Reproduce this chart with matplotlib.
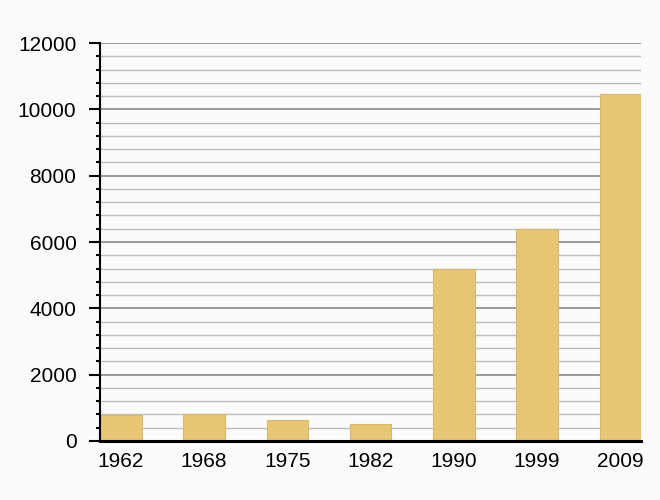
import matplotlib
matplotlib.use("Agg")
import matplotlib.pyplot as plt
from matplotlib.ticker import MultipleLocator

# values
years = ["1962", "1968", "1975", "1982", "1990", "1999", "2009"]
values = [780, 810, 630, 510, 5200, 6400, 10450]

bar_color = "#e6c574"
edge_color = "#d9b868"

plt.rcParams['font.family'] = ['Liberation Sans', 'DejaVu Sans']

fig = plt.figure(figsize=(6.6, 5), dpi=100)
fig.patch.set_facecolor("#fbfbfb")
ax = fig.add_axes([0.1515, 0.118, 0.82, 0.796])
ax.set_facecolor("#fbfbfb")

x = range(len(years))
ax.bar(x, values, width=0.5, color=bar_color, edgecolor=edge_color, linewidth=0.8, zorder=3)

ax.set_xlim(-0.25, len(years) - 0.75)
ax.set_ylim(0, 12000)
ax.set_xticks(list(x))
ax.set_xticklabels(years)
ax.yaxis.set_major_locator(MultipleLocator(2000))
ax.yaxis.set_minor_locator(MultipleLocator(400))

# grid: darker major lines, lighter minor ones
ax.grid(axis='y', which='major', color='#8a8a8a', linewidth=1.2, zorder=1)
ax.grid(axis='y', which='minor', color='#bdbdbd', linewidth=1.0, zorder=1)
ax.set_axisbelow(True)

for s in ['top', 'right']:
    ax.spines[s].set_visible(False)
ax.spines['left'].set_linewidth(1.5)
ax.spines['bottom'].set_linewidth(2.2)
ax.spines['left'].set_zorder(4)
ax.spines['bottom'].set_zorder(4)

ax.tick_params(axis='y', which='major', length=8, width=1.5, labelsize=15, pad=9)
ax.tick_params(axis='y', which='minor', length=3, width=1.5)
ax.tick_params(axis='x', length=0, labelsize=15, pad=8)

fig.savefig("out.png", dpi=100, facecolor=fig.get_facecolor())
